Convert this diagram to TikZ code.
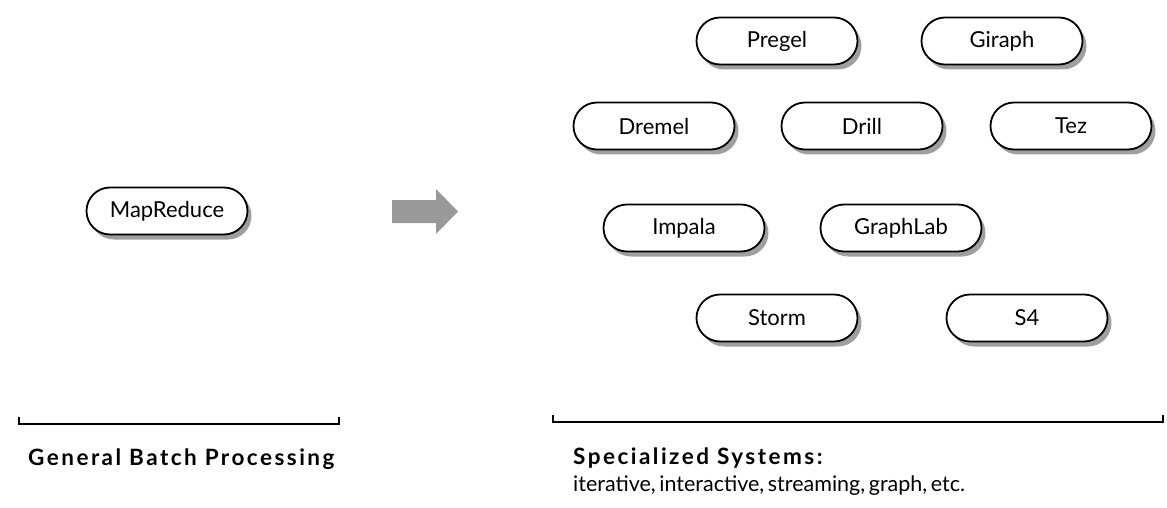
\documentclass[tikz,border=0pt]{standalone}
\usepackage{fontspec}
\setmainfont{Lato}
\usetikzlibrary{shadows}
\begin{document}
\begin{tikzpicture}[x=1pt,y=-1pt,
  pill/.style={draw=black, line width=1.8pt, fill=white, rounded corners=23.5pt,
    minimum width=161pt, minimum height=47pt, inner sep=0pt, font=\fontsize{22}{26}\selectfont,
    drop shadow={shadow xshift=4pt, shadow yshift=-5pt, opacity=0.5, fill=black!75}},
  bracket/.style={line width=2.2pt},
  boldlabel/.style={anchor=base west, inner sep=0pt, font=\fontsize{22.5}{26}\selectfont\bfseries\addfontfeature{LetterSpace=11}},
  sublabel/.style={anchor=base west, inner sep=0pt, font=\fontsize{21.5}{25}\selectfont}]
\useasboundingbox (0,0) rectangle (1167,508);
\node[pill] (mapreduce) at (167,211) {MapReduce};
\node[pill] (pregel) at (777,41) {Pregel};
\node[pill] (giraph) at (1002,41) {Giraph};
\node[pill] (dremel) at (654,126) {Dremel};
\node[pill] (drill) at (862,126) {Drill};
\node[pill] (tez) at (1071,126) {Tez};
\node[pill] (impala) at (684,228) {Impala};
\node[pill] (graphlab) at (901,228) {GraphLab};
\node[pill] (storm) at (777,318) {Storm};
\node[pill] (s4) at (1027,318) {S4};
\fill[black!40] (392,200) -- (436,200) -- (436,189) -- (458,211.5) -- (436,234) -- (436,223) -- (392,223) -- cycle;
\draw[bracket] (19,417) coordinate (l1) -- (19,424) -- (339,424) -- (339,417) coordinate (l2);
\draw[bracket] (553,415) coordinate (r1) -- (553,422) -- (1163,422) -- (1163,415) coordinate (r2);
\node[boldlabel] (gbp) at (28,465) {General Batch Processing};
\node[boldlabel] (spec) at (573,464) {Specialized Systems:};
\node[sublabel] (iter) at (573,491) {iterative,\,interactive,\,streaming,\,graph,\,etc.};
\end{tikzpicture}
\end{document}
